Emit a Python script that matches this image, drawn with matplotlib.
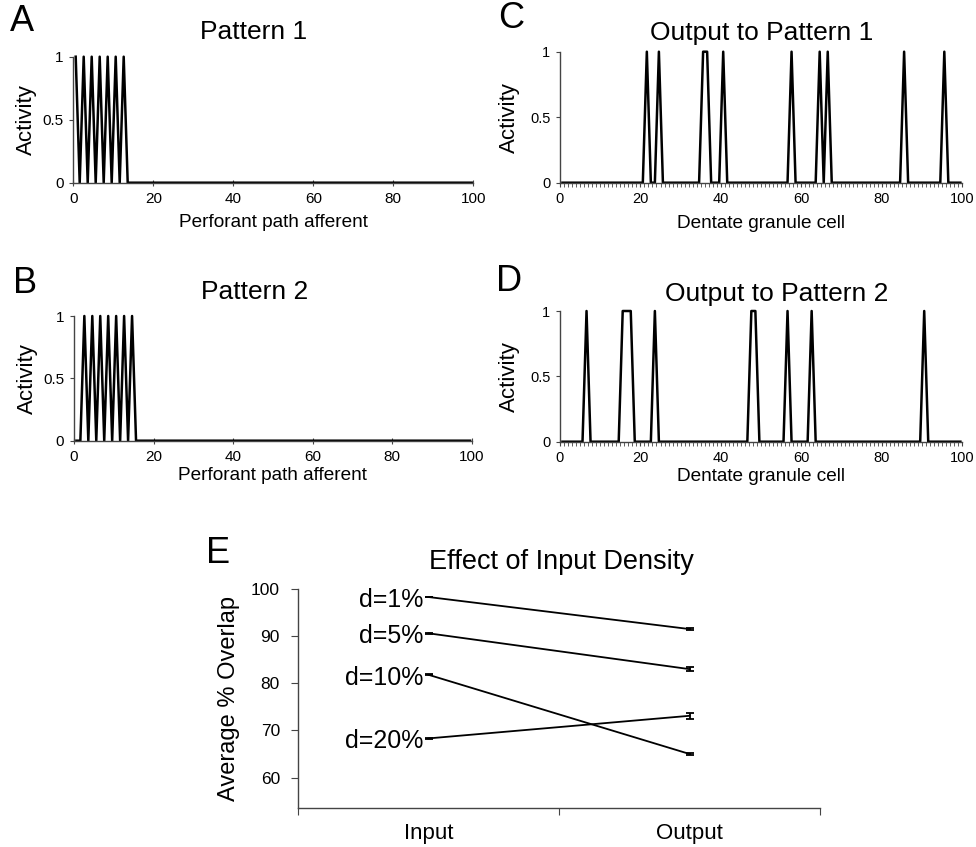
import numpy as np
import matplotlib
matplotlib.use("Agg")
import matplotlib.pyplot as plt
from matplotlib.ticker import MultipleLocator, FixedLocator

plt.rcParams['font.family'] = ['Liberation Sans', 'DejaVu Sans']

# data
n_cells = 100
pattern1_on = [0, 2, 4, 6, 8, 10, 12]
pattern2_on = [2, 4, 6, 8, 10, 12, 14]
output1_on = [21, 24, 35, 36, 40, 57, 64, 66, 85, 95]
output2_on = [6, 15, 16, 17, 23, 47, 48, 56, 62, 90]

density_labels = ["d=1%", "d=5%", "d=10%", "d=20%"]
overlap_input = [98.3, 90.6, 81.8, 68.3]
overlap_output = [91.5, 83.0, 65.0, 73.1]
err_input = [0.1, 0.1, 0.1, 0.1]
err_output = [0.25, 0.35, 0.2, 0.6]
stages = ["Input", "Output"]

W, H = 976, 847
fig = plt.figure(figsize=(W / 100, H / 100), dpi=100)


def px_axes(l, t, r, b):
    return fig.add_axes([l / W, 1 - b / H, (r - l) / W, (b - t) / H])


def px_text(x, y, s, **kw):
    fig.text(x / W, 1 - y / H, s, **kw)


def activity(on):
    v = np.zeros(n_cells)
    v[on] = 1
    return v


cells = np.arange(n_cells) + 0.6
spine_col = "#444444"


def style_activity(ax, dense):
    for s in ["top", "right"]:
        ax.spines[s].set_visible(False)
    for s in ["left", "bottom"]:
        ax.spines[s].set_color(spine_col)
        ax.spines[s].set_linewidth(1.0)
    ax.set_xlim(0, 100)
    ax.set_ylim(0, 1)
    ax.set_yticks([0, 0.5, 1])
    ax.set_yticklabels(["0", "0.5", "1"])
    ax.xaxis.set_major_locator(MultipleLocator(20))
    if dense:
        ax.xaxis.set_minor_locator(MultipleLocator(1))
        ax.tick_params(axis="x", which="both", direction="out", length=3,
                       color=spine_col, labelsize=10.5, pad=4)
        ax.tick_params(axis="y", direction="out", length=3, color=spine_col,
                       labelsize=10.5, pad=4)
    else:
        ax.tick_params(axis="x", direction="inout", length=5, color=spine_col,
                       labelsize=11, pad=4)
        ax.tick_params(axis="y", direction="out", length=3, color=spine_col,
                       labelsize=11, pad=4)
    ax.patch.set_alpha(0)


panels = [
    ("A", "Pattern 1", "Perforant path afferent", pattern1_on, (73.3, 56.7, 473.3, 182.7), False),
    ("B", "Pattern 2", "Perforant path afferent", pattern2_on, (74, 316, 471.7, 440.7), False),
    ("C", "Output to Pattern 1", "Dentate granule cell", output1_on, (560, 51.7, 962, 182.7), True),
    ("D", "Output to Pattern 2", "Dentate granule cell", output2_on, (560, 311, 962, 441.7), True),
]
title_pos = {"A": (254, 39), "B": (255, 299), "C": (762, 40), "D": (777, 301)}
letter_pos = {"A": (10, 4), "B": (13, 266), "C": (498, 0.5), "D": (496, 264)}
xlab_pad = {"A": 6, "B": 2, "C": 6, "D": 2}
ylab_pad = {"A": 4, "B": 4, "C": 7, "D": 7}

for letter, title, xlab, on, box, dense in panels:
    ax = px_axes(*box)
    ax.plot(cells, activity(on), color="black", lw=1.8, clip_on=False)
    style_activity(ax, dense)
    ax.set_xlabel(xlab, fontsize=13.7, labelpad=xlab_pad[letter])
    ax.set_ylabel("Activity", fontsize=16, labelpad=ylab_pad[letter])
    tx, ty = title_pos[letter]
    px_text(tx, ty, title, fontsize=19, ha="center", va="baseline")
    lx, ly = letter_pos[letter]
    px_text(lx, ly, letter, fontsize=26, ha="left", va="top")

# panel E
axe = px_axes(298, 589, 820, 807.7)
xs = [0.5, 1.5]
for lab, yi, yo, ei, eo in zip(density_labels, overlap_input, overlap_output, err_input, err_output):
    axe.errorbar(xs, [yi, yo], yerr=[ei, eo], color="black", lw=1.3,
                 capsize=3, capthick=1.3, elinewidth=1.3)
    axe.annotate(lab, (xs[0], yi), xytext=(-4, -2), textcoords="offset points",
                 ha="right", va="center", fontsize=18)

for s in ["top", "right"]:
    axe.spines[s].set_visible(False)
for s in ["left", "bottom"]:
    axe.spines[s].set_color(spine_col)
    axe.spines[s].set_linewidth(1.0)
axe.set_xlim(0, 2)
axe.set_ylim(53.6, 100)
axe.set_yticks([60, 70, 80, 90, 100])
axe.xaxis.set_major_locator(FixedLocator([0, 1, 2]))
axe.set_xticklabels([])
axe.xaxis.set_minor_locator(FixedLocator(xs))
axe.set_xticklabels(stages, minor=True)
axe.tick_params(axis="x", which="major", direction="out", length=5, color=spine_col)
axe.tick_params(axis="x", which="minor", length=0, labelsize=16, pad=11)
axe.tick_params(axis="y", direction="out", length=5, color=spine_col,
                labelsize=12.5, pad=8)
axe.set_ylabel("Average % Overlap", fontsize=17, labelpad=8)
axe.patch.set_alpha(0)
px_text(561, 569, "Effect of Input Density", fontsize=19.5, ha="center", va="baseline")
px_text(206, 536, "E", fontsize=26, ha="left", va="top")

fig.savefig("out.png", dpi=100)
